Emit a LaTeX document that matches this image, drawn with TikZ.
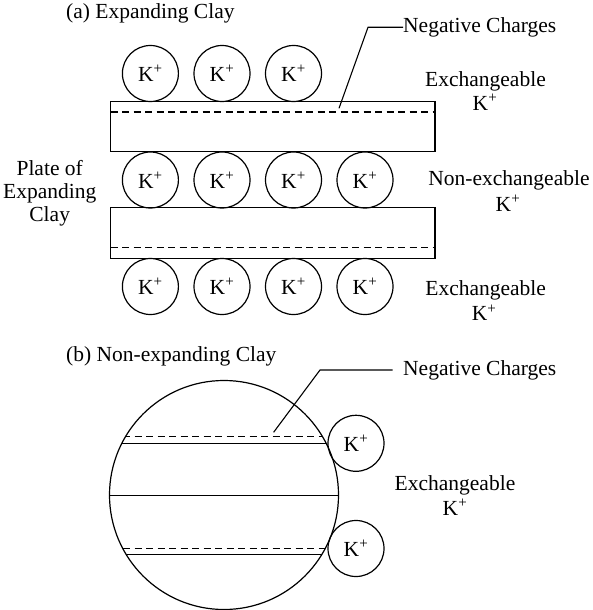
\documentclass[tikz,border=0pt]{standalone}
\usepackage{fontspec}
\setmainfont{Liberation Serif}
\newcommand{\fsz}{\fontsize{21.5}{24}\selectfont}
\newcommand{\kp}{K\textsuperscript{+}}
\begin{document}
\begin{tikzpicture}[x=1pt,y=-1pt,
  plate/.style={draw,line width=1.2pt},
  ion/.style={circle,draw,line width=1.2pt,minimum size=56pt,inner sep=0pt,font=\fsz},
  lbl/.style={font=\fsz,inner sep=0pt},
  neg/.style={line width=1.2pt,dash pattern=on 7pt off 4.5pt},
  lead/.style={line width=1.1pt},
]
\useasboundingbox (0,0) rectangle (592,610);

% ---------- (a) ----------
\node[lbl,anchor=base west] (ta) at (66,18.5) {(a) Expanding Clay};

\draw[plate] (110.7,101.7) rectangle (435,151.7);
\draw[neg] (110.7,112) -- (435,112);
\draw[plate] (110.7,207.7) rectangle (435,258.3);
\draw[neg] (110.7,247.7) -- (435,247.7);

\node[ion] (t1) at (150.4,73.5) {\kp};
\node[ion] (t2) at (222,73.5) {\kp};
\node[ion] (t3) at (293.5,73.5) {\kp};

\node[ion] (m1) at (150.4,180) {\kp};
\node[ion] (m2) at (222,180) {\kp};
\node[ion] (m3) at (293.5,180) {\kp};
\node[ion] (m4) at (365,180) {\kp};

\node[ion] (b1) at (150.4,286.5) {\kp};
\node[ion] (b2) at (222,286.5) {\kp};
\node[ion] (b3) at (293.5,286.5) {\kp};
\node[ion] (b4) at (365,286.5) {\kp};

\node[lbl,anchor=base west] (nega) at (403,32.3) {Negative Charges};
\coordinate (la1) at (339,108.3);
\coordinate (la2) at (368,27.3);
\draw[lead] (la1) -- (la2) -- (la2 -| nega.west);

\node[lbl,anchor=base] (ex1) at (485.5,86) {Exchangeable};
\node[lbl,anchor=base] (ex1k) at (485,110) {\kp};
\node[lbl,anchor=base] (nx) at (509,185) {Non-exchangeable};
\node[lbl,anchor=base] (nxk) at (508,211) {\kp};
\node[lbl,anchor=base] (ex2) at (485.7,295.7) {Exchangeable};
\node[lbl,anchor=base] (ex2k) at (484,320.7) {\kp};

\node[lbl,anchor=base] (pl1) at (49.7,175) {Plate of};
\node[lbl,anchor=base] (pl2) at (49.7,198) {Expanding};
\node[lbl,anchor=base] (pl3) at (49.7,221) {Clay};

% ---------- (b) ----------
\node[lbl,anchor=base west] (tb) at (66,361.7) {(b) Non-expanding Clay};

\node[circle,draw,line width=1.2pt,minimum size=229pt,inner sep=0pt] (clay) at (224,495) {};
\begin{scope}
  \clip (224,495) circle (114.5pt);
  \draw[neg] (100,436.7) -- (350,436.7);
  \draw[plate] (100,443.3) -- (350,443.3);
  \draw[plate] (100,495.7) -- (350,495.7);
  \draw[neg] (100,548.3) -- (350,548.3);
  \draw[plate] (100,554.3) -- (350,554.3);
\end{scope}

\node[ion] (k1) at (356,443.3) {\kp};
\node[ion] (k2) at (356,548.5) {\kp};

\node[lbl,anchor=base west] (negb) at (403,375) {Negative Charges};
\coordinate (lb1) at (273.6,432.3);
\coordinate (lb2) at (320,370);
\coordinate (lb3) at (392.5,370);
\draw[lead] (lb1) -- (lb2) -- (lb3);

\node[lbl,anchor=base] (ex3) at (455,490.7) {Exchangeable};
\node[lbl,anchor=base] (ex3k) at (455,515) {\kp};
\end{tikzpicture}
\end{document}
